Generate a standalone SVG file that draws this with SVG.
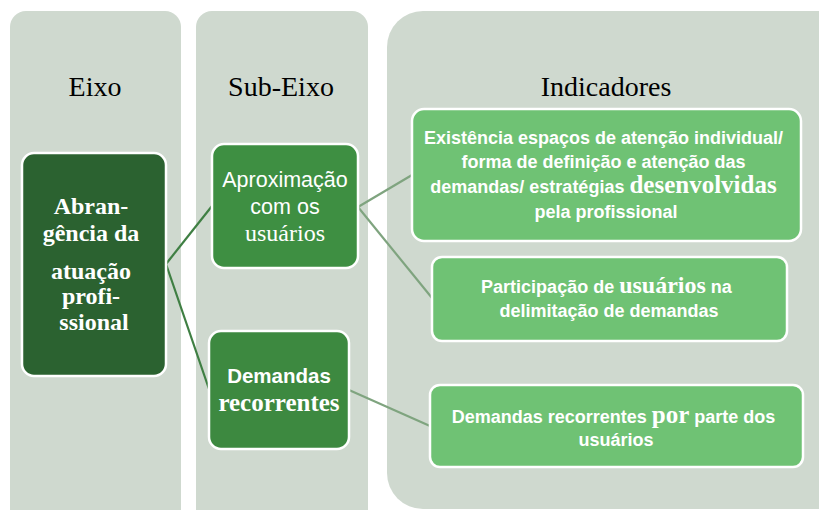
<svg xmlns="http://www.w3.org/2000/svg" width="819" height="510" viewBox="0 0 819 510">
<style>
.col{fill:#cfd9cf}
.title{font-family:"Liberation Serif",serif;font-size:28px;fill:#000;text-anchor:middle}
.node{stroke:#fff;stroke-width:2.5}
.t{fill:#fff;text-anchor:middle}
.sans{font-family:"Liberation Sans",Arial,sans-serif}
.serif{font-family:"Liberation Serif",serif}
.c1{stroke:#3f7f43;stroke-width:2.2;fill:none}
.c2{stroke:#7fa47f;stroke-width:2.2;fill:none}
</style>
<rect width="819" height="510" fill="#fff"/>
<g id="columns">
<rect class="col" x="10" y="11" width="171" height="520" rx="16"/>
<rect class="col" x="196" y="11" width="172" height="520" rx="16"/>
<rect class="col" x="387" y="11" width="470" height="498" rx="36"/>
<text class="title" x="95" y="96">Eixo</text>
<text class="title" x="281" y="96">Sub-Eixo</text>
<text class="title" x="606" y="96">Indicadores</text>
</g>
<g id="connectors">
<line class="c1" x1="166" y1="264" x2="212" y2="206"/>
<line class="c1" x1="166" y1="264" x2="209" y2="389"/>
<line class="c2" x1="358" y1="207" x2="412" y2="175"/>
<line class="c2" x1="358" y1="207" x2="432" y2="298"/>
<line class="c2" x1="349" y1="390" x2="430" y2="426"/>
</g>
<g id="n-abrangencia">
<rect class="node" x="22" y="153" width="144" height="223" rx="12" fill="#2b6230"/>
<text class="t serif" font-weight="bold" font-size="24">
<tspan x="94" y="214">Abran-</tspan>
<tspan x="94" y="241">gência da</tspan>
<tspan x="94" y="279">atuação</tspan>
<tspan x="94" y="304">profi-</tspan>
<tspan x="94" y="330">ssional</tspan>
</text>
</g>
<g id="n-aproximacao">
<rect class="node" x="212" y="144" width="146" height="124" rx="12" fill="#3e8f42"/>
<text class="t sans" font-size="21.5"><tspan x="285" y="187">Aproximação</tspan><tspan x="285" y="214">com os</tspan></text>
<text class="t serif" font-size="24" x="285" y="241">usuários</text>
</g>
<g id="n-demandas">
<rect class="node" x="209" y="331" width="140" height="118" rx="12" fill="#3d8940"/>
<text class="t sans" font-weight="bold" font-size="20.5" x="279" y="383">Demandas</text>
<text class="t serif" font-weight="bold" font-size="25" x="279" y="411">recorrentes</text>
</g>
<g id="n-existencia">
<rect class="node" x="412" y="109" width="389" height="132" rx="12" fill="#6fc274"/>
<text class="t sans" font-weight="bold" font-size="18">
<tspan x="606" y="144">Existência espaços de atenção individual/</tspan>
<tspan x="606" y="168">forma de definição e atenção das</tspan>
<tspan x="606" y="193">demandas/ estratégias <tspan class="serif" font-size="25">desenvolvidas</tspan></tspan>
<tspan x="606" y="218">pela profissional</tspan>
</text>
</g>
<g id="n-participacao">
<rect class="node" x="432" y="257" width="355" height="84" rx="10" fill="#6fc274"/>
<text class="t sans" font-weight="bold" font-size="18">
<tspan x="609" y="293">Participação de <tspan class="serif" font-size="24">usuários</tspan> na</tspan>
<tspan x="609" y="317">delimitação de demandas</tspan>
</text>
</g>
<g id="n-recorrentes">
<rect class="node" x="430" y="385" width="373" height="82" rx="10" fill="#6fc274"/>
<text class="t sans" font-weight="bold" font-size="18">
<tspan x="616" y="423">Demandas recorrentes <tspan class="serif" font-size="25">por</tspan> parte dos</tspan>
<tspan x="616" y="446">usuários</tspan>
</text>
</g>
</svg>
